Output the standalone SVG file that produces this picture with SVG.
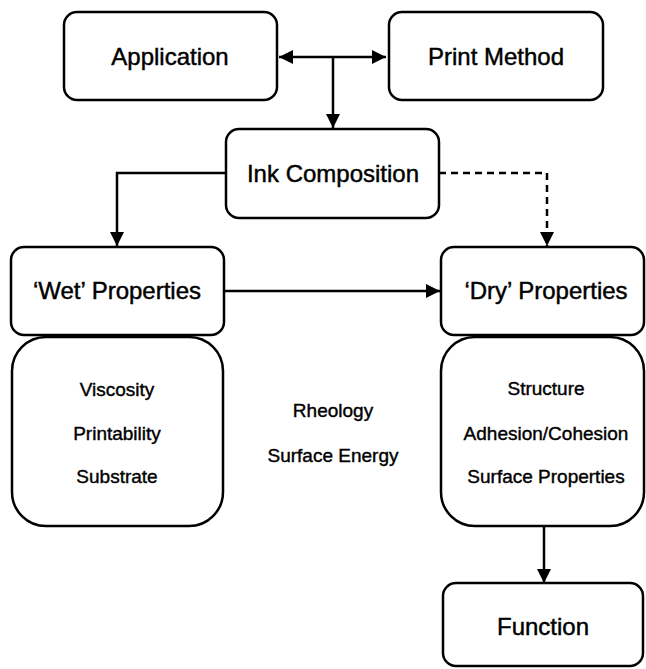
<svg xmlns="http://www.w3.org/2000/svg" width="646" height="669" viewBox="0 0 646 669">
<defs>
<style>
.box{fill:#fff;stroke:#000;stroke-width:2.5}
.lbl{font-family:"Liberation Sans",Arial,sans-serif;font-size:24px;fill:#000;stroke:#000;stroke-width:0.45;text-anchor:middle}
.sm{font-family:"Liberation Sans",Arial,sans-serif;font-size:19px;fill:#000;stroke:#000;stroke-width:0.4;text-anchor:middle}
.con{fill:none;stroke:#000;stroke-width:2.5}
.dash{stroke-dasharray:7 5}
</style>
<marker id="ah" markerUnits="userSpaceOnUse" markerWidth="15" markerHeight="15" refX="14" refY="7.5" orient="auto-start-reverse">
<path d="M0,0.5 L14,7.5 L0,14.5 z" fill="#000"/>
</marker>
</defs>
<rect width="646" height="669" fill="#fff"/>
<g id="connectors">
<path class="con" d="M279 57 H386" marker-start="url(#ah)" marker-end="url(#ah)"/>
<path class="con" d="M333 57 V128" marker-end="url(#ah)"/>
<path class="con" d="M226 173 H117 V246" marker-end="url(#ah)"/>
<path class="con dash" d="M439 173 H547 V246" marker-end="url(#ah)"/>
<path class="con" d="M224 291 H440" marker-end="url(#ah)"/>
<path class="con" d="M544 526 V583" marker-end="url(#ah)"/>
</g>
<g id="application"><rect class="box" x="64" y="12" width="213" height="88" rx="13"/><text class="lbl" x="170" y="65">Application</text></g>
<g id="print-method"><rect class="box" x="389" y="12" width="214" height="88" rx="13"/><text class="lbl" x="496" y="65">Print Method</text></g>
<g id="ink-composition"><rect class="box" x="226" y="129" width="213" height="89" rx="13"/><text class="lbl" x="333" y="182">Ink Composition</text></g>
<g id="wet-properties"><rect class="box" x="11" y="247" width="213" height="88" rx="13"/><text class="lbl" x="117" y="299">‘Wet’ Properties</text></g>
<g id="dry-properties"><rect class="box" x="441" y="247" width="203" height="88" rx="13"/><text class="lbl" x="546" y="299">‘Dry’ Properties</text></g>
<g id="wet-details"><rect class="box" x="12" y="337" width="211" height="189" rx="34"/>
<text class="sm" x="117" y="396">Viscosity</text>
<text class="sm" x="117" y="440">Printability</text>
<text class="sm" x="117" y="483">Substrate</text></g>
<g id="interface"><text class="sm" x="333" y="417">Rheology</text><text class="sm" x="333" y="462">Surface Energy</text></g>
<g id="dry-details"><rect class="box" x="441" y="337" width="203" height="189" rx="34"/>
<text class="sm" x="546" y="395">Structure</text>
<text class="sm" x="546" y="440">Adhesion/Cohesion</text>
<text class="sm" x="546" y="483">Surface Properties</text></g>
<g id="function"><rect class="box" x="443" y="583" width="200" height="83" rx="13"/><text class="lbl" x="543" y="635">Function</text></g>
</svg>
